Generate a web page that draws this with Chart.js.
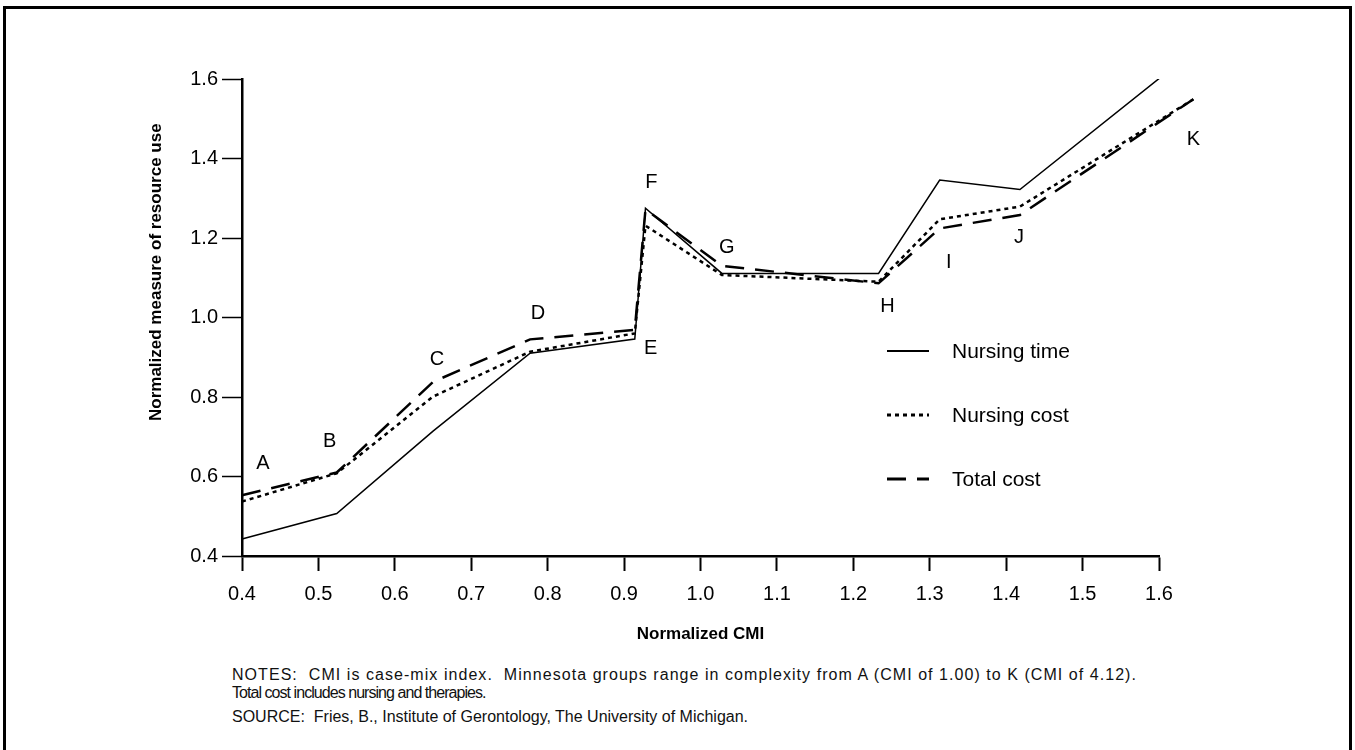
<!DOCTYPE html>
<html>
<head>
<meta charset="utf-8">
<script src="https://cdn.jsdelivr.net/npm/chart.js@4.4.0/dist/chart.umd.min.js"></script>
<style>
  html, body { margin: 0; padding: 0; background: #fff; }
  body { width: 1355px; height: 750px; overflow: hidden; position: relative; font-family: "Liberation Sans", Arial, sans-serif; }
  #frame { position: absolute; left: 3px; top: 6px; width: 1349px; height: 800px; box-sizing: border-box; border: 3px solid #000; }
  #wrap { position: absolute; left: 0; top: 0; width: 1355px; height: 660px; }
  #notes { position: absolute; left: 232px; top: 666px; font-size: 16px; color: #111; line-height: 18px; white-space: pre; }
  #notes .l1 { letter-spacing: 1.05px; }
  #notes .l2 { letter-spacing: -0.95px; }
  #notes .src { margin-top: 6px; }
</style>
</head>
<body>
<div id="wrap"><canvas id="cmiChart" width="1355" height="660"></canvas></div>
<div id="notes"><div class="l1">NOTES:  CMI is case-mix index.  Minnesota groups range in complexity from A (CMI of 1.00) to K (CMI of 4.12).</div><div class="l2">Total cost includes nursing and therapies.</div><div class="src">SOURCE:  Fries, B., Institute of Gerontology, The University of Michigan.</div></div>
<div id="frame"></div>
<script>
  // Minnesota groups A..K, normalized CMI on x
  const groups = ['A', 'B', 'C', 'D', 'E', 'F', 'G', 'H', 'I', 'J', 'K'];
  const cmi = [0.4, 0.524, 0.65, 0.777, 0.914, 0.928, 1.028, 1.233, 1.313, 1.418, 1.645];
  const nursingTime = [0.443, 0.507, 0.714, 0.910, 0.946, 1.275, 1.111, 1.111, 1.346, 1.322, 1.67];
  const nursingCost = [0.537, 0.608, 0.801, 0.914, 0.960, 1.231, 1.107, 1.090, 1.247, 1.279, 1.549];
  const totalCost = [0.553, 0.610, 0.838, 0.945, 0.969, 1.272, 1.130, 1.086, 1.224, 1.258, 1.549];
  const xTicks = [0.4, 0.5, 0.6, 0.7, 0.8, 0.9, 1.0, 1.1, 1.2, 1.3, 1.4, 1.5, 1.6];
  const yTicks = [0.4, 0.6, 0.8, 1.0, 1.2, 1.4, 1.6];

  // letter placement, pixel offsets from the total cost point
  const letterOffsets = [[21, -32], [-7, -31], [4, -22], [8, -26], [16, 19], [6, -27], [5, -18], [9, 23], [9, 34], [-1, 23], [0, 40]];

  const pts = arr => arr.map((v, i) => ({ x: cmi[i], y: v }));
  const clipTop = { left: 2, top: 0, right: 60, bottom: 2 };

  const letters = {
    id: 'letters',
    afterDatasetsDraw(chart) {
      const ctx = chart.ctx;
      const meta = chart.getDatasetMeta(2);
      ctx.save();
      ctx.font = '20px "Liberation Sans", Arial, sans-serif';
      ctx.fillStyle = '#000';
      ctx.textAlign = 'center';
      ctx.textBaseline = 'middle';
      groups.forEach((g, i) => {
        const p = meta.data[i];
        ctx.fillText(g, p.x + letterOffsets[i][0], p.y + letterOffsets[i][1]);
      });
      ctx.restore();
    }
  };

  const keyBox = {
    id: 'keyBox',
    afterDatasetsDraw(chart) {
      const ctx = chart.ctx;
      const rows = [351, 415, 479];
      ctx.save();
      chart.data.datasets.forEach((ds, i) => {
        ctx.beginPath();
        ctx.setLineDash(ds.borderDash || []);
        ctx.lineWidth = ds.borderWidth + 0.5;
        ctx.strokeStyle = '#000';
        ctx.moveTo(887, rows[i]);
        ctx.lineTo(929, rows[i]);
        ctx.stroke();
        ctx.setLineDash([]);
        ctx.font = '21px "Liberation Sans", Arial, sans-serif';
        ctx.fillStyle = '#000';
        ctx.textBaseline = 'middle';
        ctx.fillText(ds.label, 952, rows[i] + 1);
      });
      ctx.restore();
    }
  };

  const yTitle = {
    id: 'yTitle',
    afterDraw(chart) {
      const ctx = chart.ctx;
      const a = chart.chartArea;
      ctx.save();
      ctx.translate(156, a.top + (a.bottom - a.top) * 0.405);
      ctx.rotate(-Math.PI / 2);
      ctx.font = 'bold 17px "Liberation Sans", Arial, sans-serif';
      ctx.fillStyle = '#000';
      ctx.textAlign = 'center';
      ctx.textBaseline = 'middle';
      ctx.fillText('Normalized measure of resource use', 0, 0);
      ctx.restore();
    }
  };

  const ctx = document.getElementById('cmiChart').getContext('2d');
  new Chart(ctx, {
    type: 'line',
    data: {
      datasets: [{
        label: 'Nursing time',
        data: pts(nursingTime),
        borderColor: '#000',
        borderWidth: 1.5,
        clip: clipTop
      }, {
        label: 'Nursing cost',
        data: pts(nursingCost),
        borderColor: '#000',
        borderWidth: 2.5,
        borderDash: [4, 4],
        clip: clipTop
      }, {
        label: 'Total cost',
        data: pts(totalCost),
        borderColor: '#000',
        borderWidth: 2.5,
        borderDash: [19, 11],
        clip: clipTop
      }]
    },
    options: {
      responsive: false,
      animation: false,
      devicePixelRatio: 1,
      elements: { point: { radius: 0 }, line: { tension: 0 } },
      layout: { padding: { top: 79, right: 196, left: 0, bottom: 0 } },
      plugins: { legend: { display: false }, tooltip: { enabled: false } },
      scales: {
        x: {
          type: 'linear',
          min: 0.4,
          max: 1.6,
          afterBuildTicks: s => { s.ticks = xTicks.map(v => ({ value: v })); },
          afterFit: s => { s.height = 104; },
          ticks: {
            color: '#000',
            font: { size: 20, family: '"Liberation Sans", Arial, sans-serif' },
            padding: 11,
            maxRotation: 0,
            autoSkip: false,
            callback: v => v.toFixed(1)
          },
          grid: { drawOnChartArea: false, drawTicks: true, tickLength: 15, tickWidth: 2, color: '#000' },
          border: { display: true, color: '#000', width: 2.5 },
          title: {
            display: true,
            text: 'Normalized CMI',
            color: '#000',
            font: { size: 17, weight: 'bold', family: '"Liberation Sans", Arial, sans-serif' },
            padding: { top: 0, bottom: 15 }
          }
        },
        y: {
          min: 0.4,
          max: 1.6,
          afterBuildTicks: s => { s.ticks = yTicks.map(v => ({ value: v })); },
          afterFit: s => { s.width = 242; },
          ticks: {
            color: '#000',
            font: { size: 20, family: '"Liberation Sans", Arial, sans-serif' },
            padding: 4,
            callback: v => v.toFixed(1)
          },
          grid: { drawOnChartArea: false, drawTicks: true, tickLength: 20, tickWidth: 1.5, color: '#000' },
          border: { display: true, color: '#000', width: 2.5 }
        }
      }
    },
    plugins: [letters, keyBox, yTitle]
  });
</script>
</body>
</html>
